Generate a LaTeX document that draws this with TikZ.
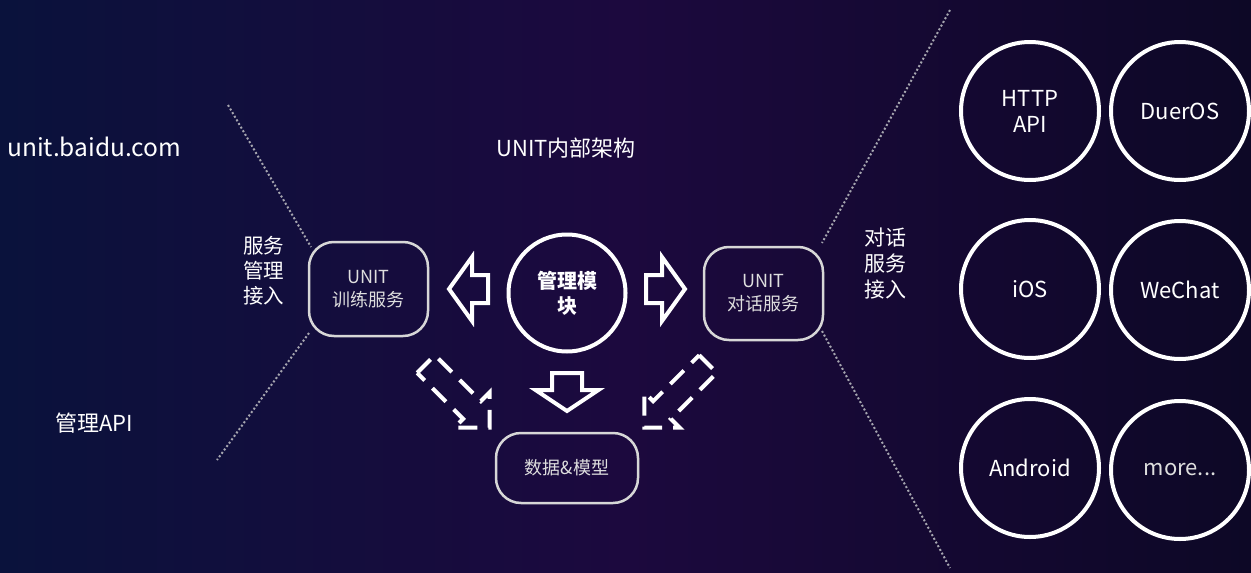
\documentclass[tikz,border=0pt]{standalone}
\usepackage{fontspec}
\setmainfont{Noto Sans CJK SC}
\definecolor{bgL}{RGB}{10,18,60}
\definecolor{bgM}{RGB}{28,9,62}
\definecolor{bgR}{RGB}{13,8,38}
\definecolor{boxline}{RGB}{215,215,215}
\definecolor{boxtext}{RGB}{222,222,222}
\definecolor{dotc}{RGB}{165,165,175}
\newcommand\fs[2]{\fontsize{#1}{#2}\selectfont}
\newcommand\barrowpath[4]{(-#1,0) -- (#1,0) -- (#1,#2) -- (#3,#2) -- (0,#2+#4) -- (-#3,#2) -- (-#1,#2) -- cycle}
\tikzset{
  lbl/.style={text=white, inner sep=0pt},
  rbox/.style={draw=boxline, line width=2.5pt, rounded corners=25pt, text=boxtext, align=center, inner sep=0pt, font=\fs{18}{23}},
  ring/.style={circle, draw=white, line width=4pt, minimum size=138pt, inner sep=0pt, text=white, align=center, font=\fs{22}{26}},
  dotline/.style={draw=dotc, line width=2pt, dash pattern=on 2pt off 2.2pt},
  solidarrow/.style={draw=white, line width=4pt, line join=miter},
  dasharrow/.style={draw=white, line width=4pt, dash pattern=on 19pt off 11pt},
}
\begin{document}
\begin{tikzpicture}[x=1pt,y=-1pt]
\shade[left color=bgL, right color=bgR, middle color=bgM] (0,0) rectangle (1251,573);
\useasboundingbox (0,0) rectangle (1251,573);

% texts
\node[lbl, font=\fs{24.5}{29}, anchor=west] (url) at (7,147) {unit.baidu.com};
\node[lbl, font=\fs{22}{26}] (mapi) at (94,423) {管理API};
\node[lbl, font=\fs{22}{26}] (title) at (566,148) {UNIT内部架构};
\node[lbl, font=\fs{20.5}{25}, align=center] (svcmgmt) at (263.5,271) {服务\\管理\\接入};
\node[lbl, font=\fs{21}{26}, align=center] (dlgin) at (885,264) {对话\\服务\\接入};

% boxes
\node[rbox, minimum width=119pt, minimum height=94pt] (train) at (368.5,289) {UNIT\\训练服务};
\node[rbox, minimum width=119pt, minimum height=93pt] (dialog) at (763.5,293.5) {UNIT\\对话服务};
\node[rbox, minimum width=142pt, minimum height=70pt] (data) at (567,468) {数据\&模型};
\node[circle, draw=white, line width=4pt, minimum size=117pt, inner sep=0pt, text=white, align=center, font=\fs{20}{25}\bfseries] (mgmt) at (567,293) {管理模\\块};

% block arrows
\draw[solidarrow, shift={(488,289)}, rotate=-90] \barrowpath{14}{16}{32}{23};
\draw[solidarrow, shift={(646,289)}, rotate=90] \barrowpath{14}{16}{32}{23};
\draw[solidarrow, shift={(567,373)}] \barrowpath{15}{17}{31.5}{21};
\draw[dasharrow, shift={(426,364)}, rotate=45] \barrowpath{12.5}{65}{25}{25};
\draw[dasharrow, shift={(708,364)}, rotate=-45] \barrowpath{12.5}{65}{25}{25};

% dotted separators
\coordinate (l1a) at (228,105); \coordinate (l1b) at (311,247);
\coordinate (l2a) at (309,333); \coordinate (l2b) at (217,460);
\coordinate (r1a) at (950,10);  \coordinate (r1b) at (822,243);
\coordinate (r2a) at (822,331); \coordinate (r2b) at (950,568);
\draw[dotline] (l1a) -- (l1b);
\draw[dotline] (l2a) -- (l2b);
\draw[dotline] (r1a) -- (r1b);
\draw[dotline] (r2a) -- (r2b);

% client circles
\node[ring] (http) at (1030,111) {HTTP\\API};
\node[ring] (duer) at (1180,111) {DuerOS};
\node[ring] (ios) at (1030,289) {iOS};
\node[ring] (wechat) at (1180,290) {WeChat};
\node[ring] (android) at (1030,468) {Android};
\node[ring, text=boxtext] (more) at (1180,470) {more...};
\end{tikzpicture}
\end{document}
